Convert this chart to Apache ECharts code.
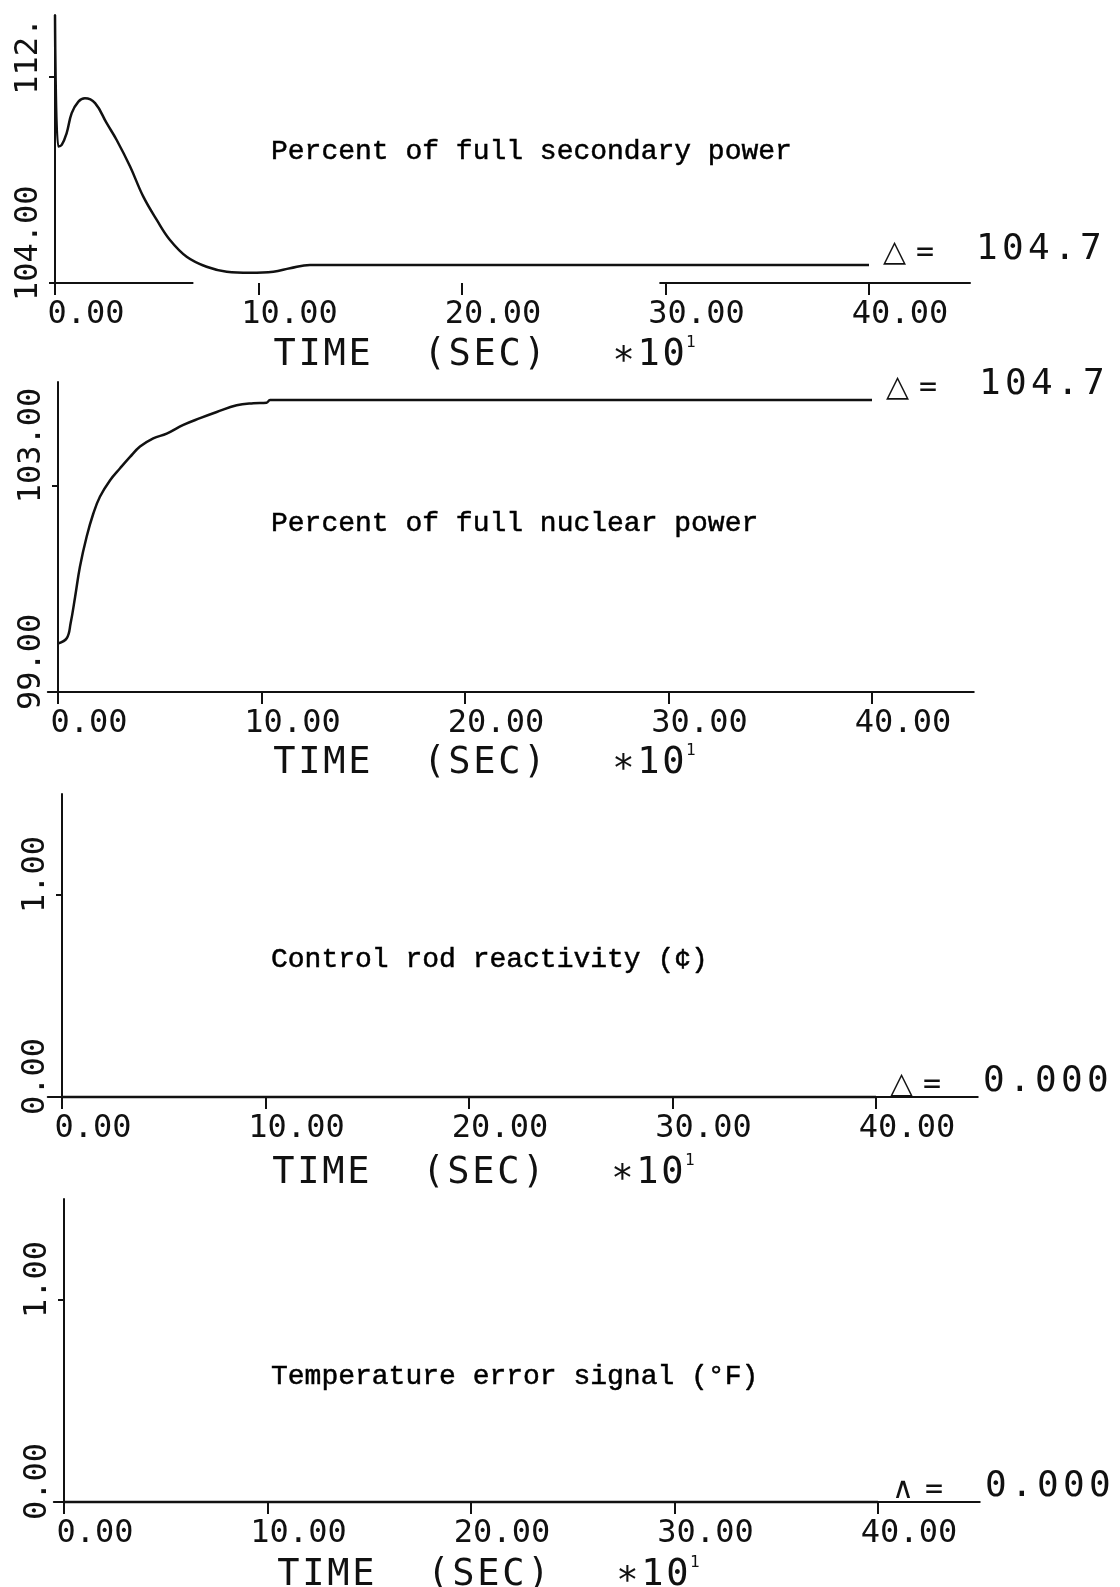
<!DOCTYPE html>
<html><head><meta charset="utf-8">
<script src="https://cdn.jsdelivr.net/npm/echarts@6/dist/echarts.min.js"></script>
<style>html,body{margin:0;padding:0;background:#fff}#c{width:1120px;height:1587px}</style>
</head><body><div id="c"></div>
<script>
// ---------- data (time in units of 10 s) ----------
const timeTicks = [0, 10, 20, 30, 40];

const secT = [0, 0.16, 0.33, 0.57, 0.82, 1.15, 1.47, 1.97, 2.54, 3.03, 3.69, 4.34, 5.0, 5.65, 6.47, 7.45, 8.44, 9.58, 10.73, 11.55, 12.53, 40];
const secV = [114.4, 109.3, 109.36, 109.81, 110.59, 111.04, 111.17, 110.98, 110.2, 109.55, 108.52, 107.35, 106.45, 105.67, 105.02, 104.63, 104.44, 104.4, 104.44, 104.57, 104.7, 104.7];
const secYTicks = [104, 112];
const secYLabels = ['104.00', '112.'];
const secAxisT = [-0.25, 6.8, 18, 29.7, 45];
const secAxisV = [104, 104, '-', 104, 104];

const nucT = [0, 0.02, 0.43, 0.62, 0.84, 1.08, 1.41, 1.74, 2.06, 2.56, 3.05, 3.54, 4.03, 4.68, 5.34, 6.16, 6.98, 7.8, 8.78, 9.6, 10.25, 10.42, 40];
const nucV = [99.94, 99.94, 100.04, 100.33, 100.84, 101.43, 102.01, 102.46, 102.78, 103.1, 103.33, 103.55, 103.75, 103.91, 104.0, 104.17, 104.3, 104.42, 104.55, 104.59, 104.6, 104.65, 104.65];
const nucYTicks = [99, 103];
const nucYLabels = ['99.00', '103.00'];

const rodT = [0, 40];
const rodV = [0, 0];
const tempT = [0, 40];
const tempV = [0, 0];
const unitYTicks = [0, 1];
const unitYLabels = ['0.00', '1.00'];

const titles = ['Percent of full secondary power', 'Percent of full nuclear power', 'Control rod reactivity (¢)', 'Temperature error signal (°F)'];
const finalValues = ['104.7', '104.7', '0.000', '0.000'];
const deltaSymbols = ['△', '△', '△', '∧'];
const nameParts = ['TIME', '(SEC)', '∗10', '1'];

// ---------- styling ----------
const INK = '#111';
const MONO = '"DejaVu Sans Mono", monospace';
const TYPE = '"Liberation Mono", "Courier New", monospace';
const PX = 20.35; // px per x unit

const zip = (a, b) => a.map((x, i) => [x, b[i]]);
const charTokens = (s, st) => s.split('').map(ch => '{' + st + '|' + ch + '}').join('');

const nameRich = {
  c: { fontFamily: MONO, fontSize: 37, width: 25, color: INK, lineHeight: 40 },
  g2: { fontFamily: MONO, fontSize: 37, width: 50, lineHeight: 40 },
  g3: { fontFamily: MONO, fontSize: 37, width: 64, lineHeight: 40 },
  sup: { fontFamily: MONO, fontSize: 16, color: INK, verticalAlign: 'top', lineHeight: 40 }
};
const nameText = charTokens(nameParts[0], 'c') + '{g2| }' + charTokens(nameParts[1], 'c') + '{g3| }' + charTokens(nameParts[2], 'c') + '{sup|' + nameParts[3] + '}';

const deltaRich = {
  d: { fontFamily: '"DejaVu Sans", sans-serif', fontSize: 30, width: 33, color: INK, verticalAlign: 'bottom', lineHeight: 34 },
  e: { fontFamily: MONO, fontSize: 30, width: 60, color: INK, verticalAlign: 'bottom', lineHeight: 34 },
  n: { fontFamily: MONO, fontSize: 36, width: 26, color: INK, verticalAlign: 'bottom', lineHeight: 34 }
};
const deltaText = i => '{d|' + deltaSymbols[i] + '}{e|=}' + charTokens(finalValues[i], 'n');

// y-axis pixel x, x-axis minimum (line runs a little left of the y axis), top, height
const panels = [
  { ax: 55, xmin: -0.25, top: 15, height: 268, namePad: 53, nameGap: 52 },
  { ax: 58, xmin: -0.5, top: 382, height: 310, namePad: 54, nameGap: 51 },
  { ax: 62, xmin: -0.7, top: 794, height: 303, namePad: 60, nameGap: 56 },
  { ax: 64, xmin: -0.5, top: 1199, height: 303, namePad: 58, nameGap: 53 }
];
const grids = panels.map(p => ({ outerBoundsMode: 'none', containLabel: false,
  left: p.ax + p.xmin * PX, top: p.top, width: (45 - p.xmin) * PX, height: p.height }));

const titleTops = [138, 510, 946, 1363];

function xAx(gi, showLine) {
  const p = panels[gi];
  return {
    type: 'value', gridIndex: gi, min: p.xmin, max: 45,
    splitLine: { show: false },
    axisLine: { show: showLine, onZero: false, lineStyle: { color: INK, width: 2 } },
    axisTick: { show: true, length: 12, customValues: timeTicks, lineStyle: { color: INK, width: 2 } },
    axisLabel: { show: true, customValues: timeTicks, margin: 16, fontFamily: MONO, fontSize: 32, color: INK,
      align: 'center', padding: [0, 0, 0, 62], formatter: v => v.toFixed(2) },
    name: nameText, nameLocation: 'middle', nameGap: p.nameGap,
    nameTextStyle: { rich: nameRich, padding: [0, p.namePad, 0, 0] }
  };
}
function yAx(gi, min, max, ticks, labels) {
  const p = panels[gi];
  return {
    type: 'value', gridIndex: gi, min: min, max: max,
    splitLine: { show: false },
    axisLine: { show: true, onZero: true, lineStyle: { color: INK, width: 2 } },
    axisTick: { show: true, length: 6, customValues: ticks, lineStyle: { color: INK, width: 2 } },
    axisLabel: { show: true, customValues: ticks, rotate: 90, align: 'left', verticalAlign: 'bottom',
      margin: 10 + p.xmin * PX,
      padding: [0, 0, 0, -18], fontFamily: MONO, fontSize: 32, color: INK,
      formatter: v => { const k = ticks.indexOf(v); return k >= 0 ? labels[k] : ''; } }
  };
}
function lineSeries(gi, t, v, idx) {
  return {
    type: 'line', xAxisIndex: gi, yAxisIndex: gi, data: zip(t, v),
    symbol: 'none', showSymbol: false, clip: false, silent: true,
    smooth: 0.4,
    lineStyle: { color: INK, width: 2.5 }, itemStyle: { color: INK },
    endLabel: { show: true, distance: 14, align: 'left', verticalAlign: 'bottom', offset: [0, 3],
      formatter: () => deltaText(idx), rich: deltaRich }
  };
}

const option = {
  animation: false,
  backgroundColor: '#fff',
  grid: grids,
  title: titles.map((t, i) => ({ text: t, left: 271, top: titleTops[i], padding: 0,
    textStyle: { fontFamily: TYPE, fontSize: 28, fontWeight: 'normal', color: '#000',
      textBorderColor: '#000', textBorderWidth: 0.5 } })),
  xAxis: [xAx(0, false), xAx(1, true), xAx(2, true), xAx(3, true)],
  yAxis: [
    yAx(0, 104, 114.4, secYTicks, secYLabels),
    yAx(1, 99, 105, nucYTicks, nucYLabels),
    yAx(2, 0, 1.5, unitYTicks, unitYLabels),
    yAx(3, 0, 1.5, unitYTicks, unitYLabels)
  ],
  series: [
    { type: 'line', xAxisIndex: 0, yAxisIndex: 0, data: zip(secAxisT, secAxisV), symbol: 'none', showSymbol: false,
      clip: false, silent: true, connectNulls: false, lineStyle: { color: INK, width: 2 } },
    lineSeries(0, secT, secV, 0),
    lineSeries(1, nucT, nucV, 1),
    lineSeries(2, rodT, rodV, 2),
    lineSeries(3, tempT, tempV, 3)
  ]
};
const chart = echarts.init(document.getElementById('c'));
chart.setOption(option);
</script></body></html>
